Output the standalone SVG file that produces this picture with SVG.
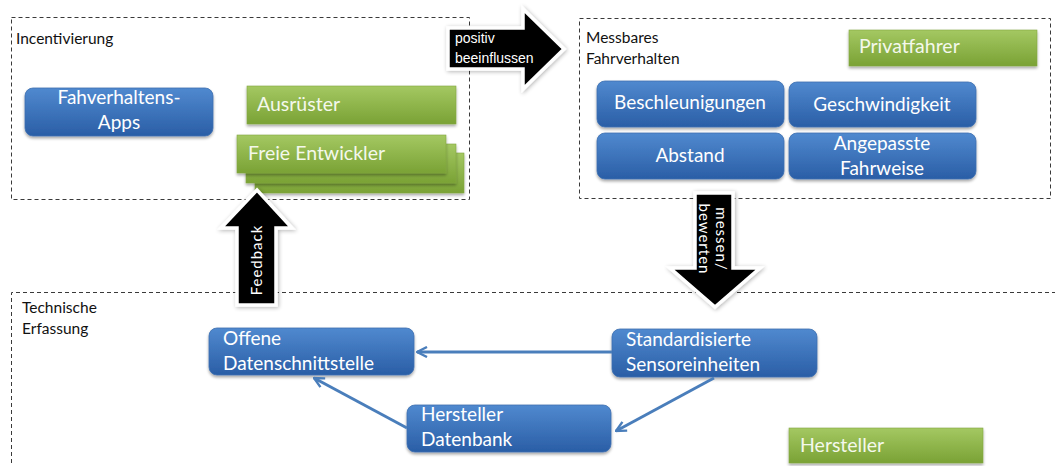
<svg xmlns="http://www.w3.org/2000/svg" width="1055" height="466" viewBox="0 0 1055 466">
  <defs>
    <linearGradient id="gBlue" x1="0" y1="0" x2="0" y2="1">
      <stop offset="0" stop-color="#5089CF"/>
      <stop offset="1" stop-color="#2A5EA6"/>
    </linearGradient>
    <linearGradient id="gGreen" x1="0" y1="0" x2="0" y2="1">
      <stop offset="0" stop-color="#A4C862"/>
      <stop offset="1" stop-color="#7AA235"/>
    </linearGradient>
    <filter id="shadow" x="-10%" y="-20%" width="120%" height="150%">
      <feGaussianBlur in="SourceAlpha" stdDeviation="1.6"/>
      <feOffset dx="0" dy="2" result="b"/>
      <feComponentTransfer><feFuncA type="linear" slope="0.35"/></feComponentTransfer>
      <feMerge><feMergeNode/><feMergeNode in="SourceGraphic"/></feMerge>
    </filter>
    <filter id="glow" x="-30%" y="-30%" width="160%" height="160%">
      <feGaussianBlur in="SourceAlpha" stdDeviation="2"/>
      <feOffset dx="1" dy="1"/>
      <feComponentTransfer><feFuncA type="linear" slope="0.3"/></feComponentTransfer>
      <feMerge><feMergeNode/><feMergeNode in="SourceGraphic"/></feMerge>
    </filter>
    <marker id="open" viewBox="0 0 12 12" refX="11" refY="6" markerWidth="12" markerHeight="12" markerUnits="userSpaceOnUse" orient="auto">
      <path d="M1,1 L11,6 L1,11" fill="none" stroke="#4A7EBB" stroke-width="2.4" stroke-linejoin="miter"/>
    </marker>
    <style>
      .frame { fill: none; stroke: #3a3a3a; stroke-width: 1; stroke-dasharray: 4 3; }
      .cap { font-family: Lato, "Liberation Sans", sans-serif; font-size: 15.5px; fill: #111; }
      .blue { fill: url(#gBlue); stroke: #3C6FB0; stroke-width: 0.8; filter: url(#shadow); }
      .green { fill: url(#gGreen); stroke: #82A742; stroke-width: 0.6; filter: url(#shadow); }
      .lbl { font-family: Lato, "Liberation Sans", sans-serif; font-size: 19px; fill: #fff; }
      .glbl { font-family: Lato, "Liberation Sans", sans-serif; font-size: 19.5px; fill: #F4F8EC; }
      .mid { text-anchor: middle; }
      .bigarrow { fill: #000; stroke: #fff; stroke-width: 3.5; stroke-linejoin: miter; filter: url(#glow); }
      .atext { font-family: "Liberation Sans", Arial, sans-serif; font-size: 14px; fill: #fff; }
      .vtext { font-family: Lato, "Liberation Sans", sans-serif; font-size: 15px; fill: #fff; letter-spacing: 1px; text-anchor: middle; }
      .conn { fill: none; stroke: #4A7EBB; stroke-width: 3; marker-end: url(#open); }
    </style>
  </defs>

  <rect width="1055" height="466" fill="#fff"/>

  <!-- group frames -->
  <g id="incentivierung">
    <rect class="frame" x="11.5" y="17.5" width="458" height="182"/>
    <text class="cap" x="16" y="44">Incentivierung</text>
  </g>
  <g id="messbares-fahrverhalten">
    <rect class="frame" x="579.5" y="18.5" width="471" height="180"/>
    <text class="cap" x="586" y="43">Messbares</text>
    <text class="cap" x="586" y="64">Fahrverhalten</text>
  </g>
  <g id="technische-erfassung">
    <path class="frame" d="M11.5,470 V292.5 H1060"/>
    <text class="cap" x="22" y="313">Technische</text>
    <text class="cap" x="22" y="334">Erfassung</text>
  </g>

  <!-- Incentivierung nodes -->
  <g id="fahrverhaltens-apps">
    <rect class="blue" x="25" y="88" width="188" height="48" rx="8"/>
    <text class="lbl mid" x="119" y="104">Fahverhaltens-</text>
    <text class="lbl mid" x="119" y="129">Apps</text>
  </g>
  <g id="ausruester">
    <rect class="green" x="247" y="86" width="209" height="38"/>
    <text class="glbl" x="257" y="111">Ausrüster</text>
  </g>
  <g id="freie-entwickler">
    <rect class="green" x="255" y="153" width="209" height="40"/>
    <rect class="green" x="246" y="144" width="210" height="39"/>
    <rect class="green" x="237" y="135" width="209" height="38"/>
    <text class="glbl" x="248" y="160">Freie Entwickler</text>
  </g>

  <!-- Messbares Fahrverhalten nodes -->
  <g id="privatfahrer">
    <rect class="green" x="849" y="30" width="188" height="36"/>
    <text class="glbl" x="859" y="53">Privatfahrer</text>
  </g>
  <g id="beschleunigungen">
    <rect class="blue" x="597" y="81" width="187" height="46" rx="8"/>
    <text class="lbl mid" x="690" y="109">Beschleunigungen</text>
  </g>
  <g id="geschwindigkeit">
    <rect class="blue" x="789" y="82" width="187" height="45" rx="8"/>
    <text class="lbl mid" x="882" y="111">Geschwindigkeit</text>
  </g>
  <g id="abstand">
    <rect class="blue" x="597" y="133" width="187" height="46" rx="8"/>
    <text class="lbl mid" x="690" y="162">Abstand</text>
  </g>
  <g id="angepasste-fahrweise">
    <rect class="blue" x="789" y="133" width="187" height="46" rx="8"/>
    <text class="lbl mid" x="882" y="150">Angepasste</text>
    <text class="lbl mid" x="882" y="175">Fahrweise</text>
  </g>

  <!-- Technische Erfassung nodes -->
  <g id="offene-datenschnittstelle">
    <rect class="blue" x="209" y="328" width="205" height="47" rx="8"/>
    <text class="lbl" x="223" y="345">Offene</text>
    <text class="lbl" x="223" y="370">Datenschnittstelle</text>
  </g>
  <g id="standardisierte-sensoreinheiten">
    <rect class="blue" x="612" y="329" width="205" height="48" rx="8"/>
    <text class="lbl" x="626" y="346">Standardisierte</text>
    <text class="lbl" x="626" y="371">Sensoreinheiten</text>
  </g>
  <g id="hersteller-datenbank">
    <rect class="blue" x="407" y="405" width="204" height="47" rx="8"/>
    <text class="lbl" x="421" y="421">Hersteller</text>
    <text class="lbl" x="421" y="446">Datenbank</text>
  </g>
  <g id="hersteller">
    <rect class="green" x="789" y="428" width="194" height="35"/>
    <text class="glbl" x="800" y="452">Hersteller</text>
  </g>

  <!-- block arrows between areas -->
  <g id="positiv-beeinflussen">
    <path class="bigarrow" d="M448,28 H523 V9 L564,49 L523,89 V69 H448 Z"/>
    <text class="atext" x="455" y="43">positiv</text>
    <text class="atext" x="455" y="63">beeinflussen</text>
  </g>
  <g id="messen-bewerten">
    <path class="bigarrow" d="M695,193 H733 V268 H760 L715,307 L670,268 H695 Z"/>
    <text class="vtext" transform="translate(716,239) rotate(90)">messen/</text>
    <text class="vtext" transform="translate(699,239) rotate(90)">bewerten</text>
  </g>
  <g id="feedback">
    <path class="bigarrow" d="M237,305 V228 H221 L257,190 L292,228 H276 V305 Z"/>
    <text class="vtext" transform="translate(262,260) rotate(-90)">Feedback</text>
  </g>

  <!-- connectors -->
  <g id="connectors">
    <path class="conn" d="M612,352 H417"/>
    <path class="conn" d="M714,378 L616,431"/>
    <path class="conn" d="M407,428 L314,378"/>
  </g>
</svg>
